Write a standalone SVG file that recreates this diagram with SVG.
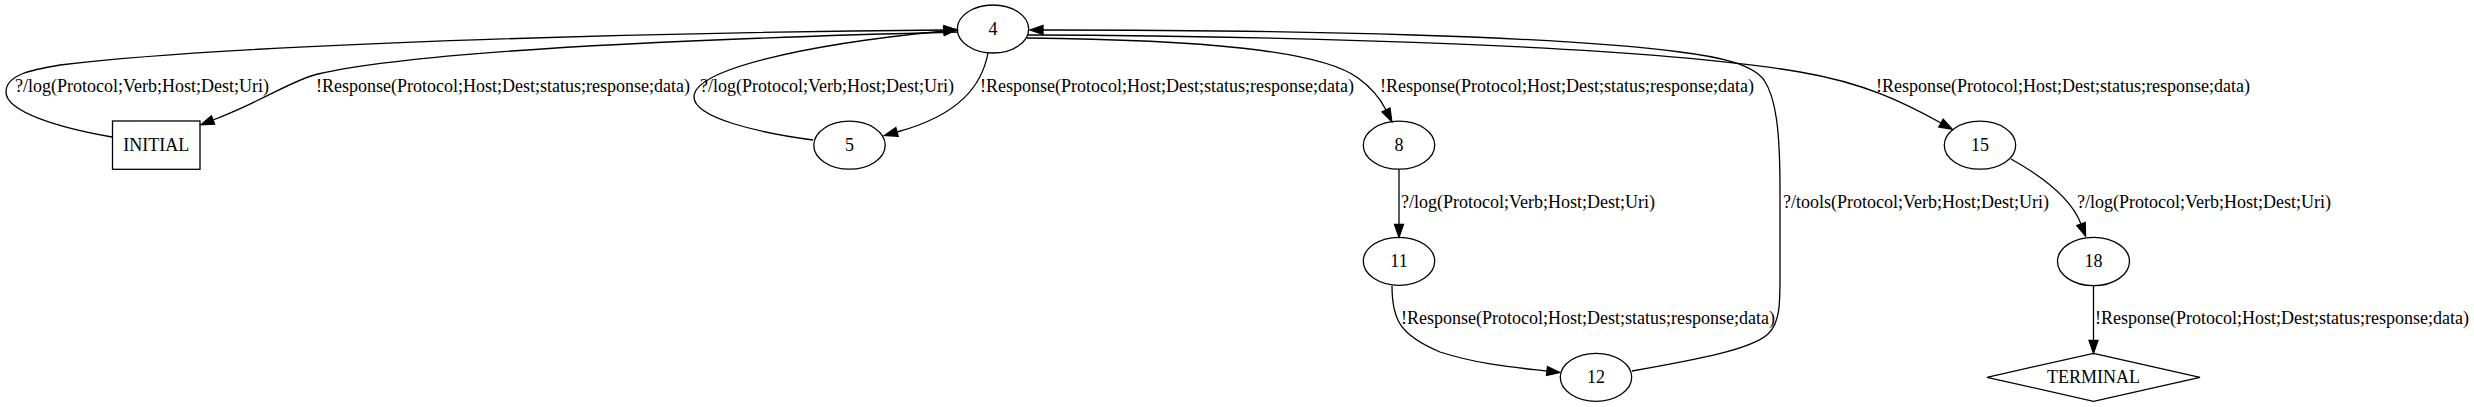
<svg xmlns="http://www.w3.org/2000/svg" width="2474" height="407" viewBox="0 0 2474 407">
<style>
.n{fill:none;stroke:#000;stroke-width:1.3}
.e{fill:none;stroke:#000;stroke-width:1.3;marker-end:url(#arr)}
.e0{fill:none;stroke:#000;stroke-width:1.3}
text{font-family:"Liberation Serif","Times New Roman",serif;font-size:18px;fill:#000}
.c{text-anchor:middle}
</style>
<defs>
<marker id="arr" markerUnits="userSpaceOnUse" markerWidth="15" markerHeight="11" refX="0" refY="4.5" orient="auto" overflow="visible">
<path d="M0,0 L13,4.5 L0,9 z" fill="#000" stroke="#000" stroke-width="1.3"/>
</marker>
</defs>
<rect width="2474" height="407" fill="#fff"/>
<g id="connectors">
<path id="e_INITIAL_4" class="e" d="M112,137 C60,128 6,112 6,92 C6,75 30,70 60,65 C250,42 700,32 944,30"/>
<path id="e_4_INITIAL" class="e" d="M958,32 C760,37 430,48 318,74 C292,80 265,100 213,120"/>
<path id="e_5_4" class="e" d="M813,140 C760,133 694,118 694,97 C694,70 800,45 944,31"/>
<path id="e_4_5" class="e" d="M988,53 C982,85 960,115 897,132"/>
<path id="e_4_8" class="e" d="M1027,38 C1200,40 1320,50 1358,78 C1372,88 1380,98 1386,110"/>
<path id="e_8_11" class="e" d="M1399,169.3 L1399,224.3"/>
<path id="e_11_12" class="e" d="M1392,286 C1392,320 1400,335 1440,352 C1480,365 1520,368 1547,371"/>
<path id="e_12_4" class="e" d="M1632,371 C1700,359 1752,349 1768,334 C1781,322 1780,300 1780,270 L1780,190 C1780,130 1776,98 1764,80 C1752,64 1720,57 1680,52 C1560,36 1300,30 1043,30"/>
<path id="e_4_15" class="e" d="M1028,35 C1300,36 1650,46 1800,72 C1865,83 1905,103 1941,123"/>
<path id="e_15_18" class="e" d="M2011,159 C2045,178 2072,200 2081,224"/>
<path id="e_18_T" class="e" d="M2093.5,286 L2093.5,340.3"/>
<text x="15" y="91.7">?/log(Protocol;Verb;Host;Dest;Uri)</text>
<text x="316" y="91.7">!Response(Protocol;Host;Dest;status;response;data)</text>
<text x="700" y="91.7">?/log(Protocol;Verb;Host;Dest;Uri)</text>
<text x="980" y="91.7">!Response(Protocol;Host;Dest;status;response;data)</text>
<text x="1380" y="91.7">!Response(Protocol;Host;Dest;status;response;data)</text>
<text x="1876" y="91.7">!Response(Protocol;Host;Dest;status;response;data)</text>
<text x="1401" y="208.3">?/log(Protocol;Verb;Host;Dest;Uri)</text>
<text x="1783" y="208.3">?/tools(Protocol;Verb;Host;Dest;Uri)</text>
<text x="2077" y="208.3">?/log(Protocol;Verb;Host;Dest;Uri)</text>
<text x="1401" y="323.5">!Response(Protocol;Host;Dest;status;response;data)</text>
<text x="2095" y="323.5">!Response(Protocol;Host;Dest;status;response;data)</text>
</g>
<g id="INITIAL"><rect class="n" x="112.5" y="121" width="87.5" height="48.3"/><text class="c" x="156.2" y="150.7">INITIAL</text></g>
<g id="n4"><ellipse class="n" cx="993" cy="29" rx="35.7" ry="24"/><text class="c" x="993" y="34.5">4</text></g>
<g id="n5"><ellipse class="n" cx="849.5" cy="145.2" rx="35.7" ry="24"/><text class="c" x="849.5" y="150.7">5</text></g>
<g id="n8"><ellipse class="n" cx="1399" cy="145.2" rx="35.7" ry="24"/><text class="c" x="1399" y="150.7">8</text></g>
<g id="n11"><ellipse class="n" cx="1399" cy="261.3" rx="35.7" ry="24"/><text class="c" x="1399" y="266.8">11</text></g>
<g id="n12"><ellipse class="n" cx="1596" cy="377.3" rx="35.7" ry="24"/><text class="c" x="1596" y="382.8">12</text></g>
<g id="n15"><ellipse class="n" cx="1980" cy="145.2" rx="35.7" ry="24"/><text class="c" x="1980" y="150.7">15</text></g>
<g id="n18"><ellipse class="n" cx="2093.5" cy="261.5" rx="36" ry="24.2"/><text class="c" x="2093.5" y="267">18</text></g>
<g id="TERMINAL"><polygon class="n" points="2093.5,353.3 2200,377.3 2093.5,401.3 1987,377.3"/><text class="c" x="2093.5" y="383">TERMINAL</text></g>
</svg>
